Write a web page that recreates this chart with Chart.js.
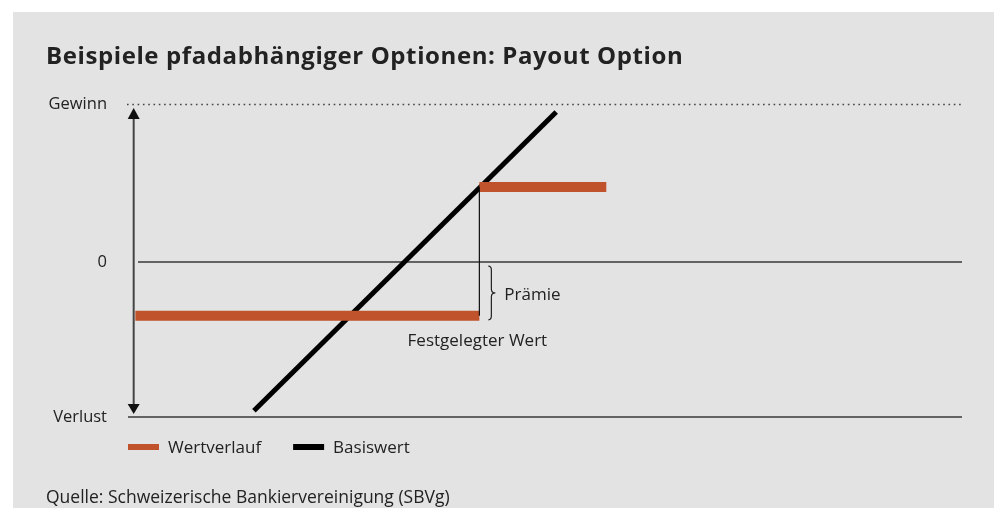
<!DOCTYPE html>
<html>
<head>
<meta charset="utf-8">
<script src="https://cdn.jsdelivr.net/npm/chart.js@4.4.0/dist/chart.umd.min.js"></script>
<style>
  html, body { margin: 0; padding: 0; background: #fff; }
  #wrap { width: 994px; height: 508px; }
</style>
</head>
<body>
<div id="wrap"><canvas id="myChart" width="994" height="508"></canvas></div>
<script>
  'use strict'

  // Achsen (schematisch: x 0..100, y Verlust..Gewinn)
  var yLevels = [-98, 0, 100]
  var yLabels = ['Verlust', '0', 'Gewinn']

  // Wertverlauf (Payout Option)
  var wertX = [1, 42.2, 42.2, 42.2, 57.4]
  var wertY = [-34, -34, null, 47.5, 47.5]

  // Basiswert
  var basisX = [15.2, 51.4]
  var basisY = [-94, 95]

  // Festgelegter Wert (Sprung)
  var sprungX = [42.2, 42.2]
  var sprungY = [-34, 47.5]

  var orange = '#c0532b'
  var textColor = '#222'
  var font = '"Open Sans", "Noto Sans", sans-serif'

  function pts(xs, ys) {
    return xs.map(function (x, i) { return { x: x, y: ys[i] } })
  }

  var decor = {
    id: 'decor',
    beforeDraw: function (chart) {
      var c = chart.ctx
      c.save()
      c.fillStyle = '#fff'
      c.fillRect(0, 0, chart.width, chart.height)
      c.fillStyle = '#e3e3e3'
      c.fillRect(13, 12, chart.width - 13, chart.height - 12)
      c.restore()
    },
    beforeDatasetsDraw: function (chart) {
      var c = chart.ctx
      var xs = chart.scales.x, ys = chart.scales.y
      var area = chart.chartArea
      var yTop = ys.getPixelForValue(yLevels[2])
      var yZero = ys.getPixelForValue(yLevels[1])
      var yBot = ys.getPixelForValue(yLevels[0])
      c.save()
      // Gewinn (gepunktet)
      c.strokeStyle = '#444'
      c.lineWidth = 1.5
      c.setLineDash([1.6, 3.7])
      c.beginPath()
      c.moveTo(area.left, Math.round(yTop) + 0.5)
      c.lineTo(area.right, Math.round(yTop) + 0.5)
      c.stroke()
      c.setLineDash([])
      // 0 und Verlust
      c.strokeStyle = '#3a3a3a'
      c.lineWidth = 1.5
      c.beginPath()
      c.moveTo(area.left + 11, yZero)
      c.lineTo(area.right, yZero)
      c.moveTo(area.left + 1, yBot)
      c.lineTo(area.right, yBot)
      c.stroke()
      // senkrechte Achse mit Pfeilen
      var ax = xs.getPixelForValue(0.8)
      c.strokeStyle = '#444'
      c.fillStyle = '#111'
      c.lineWidth = 2
      c.beginPath()
      c.moveTo(ax, yTop + 12)
      c.lineTo(ax, yBot - 10)
      c.stroke()
      c.beginPath()
      c.moveTo(ax, yTop + 4)
      c.lineTo(ax - 6, yTop + 15)
      c.lineTo(ax + 6, yTop + 15)
      c.closePath()
      c.fill()
      c.beginPath()
      c.moveTo(ax, yBot - 3)
      c.lineTo(ax - 6, yBot - 13)
      c.lineTo(ax + 6, yBot - 13)
      c.closePath()
      c.fill()
      c.restore()
    },
    afterDraw: function (chart) {
      var c = chart.ctx
      var xs = chart.scales.x, ys = chart.scales.y
      c.save()
      c.fillStyle = textColor
      c.textBaseline = 'alphabetic'
      c.textAlign = 'left'
      c.font = 'bold 24px ' + font
      c.letterSpacing = '0.6px'
      c.fillText('Beispiele pfadabhängiger Optionen: Payout Option', 46, 64)
      c.letterSpacing = '0px'
      c.font = '17.5px ' + font
      c.fillText('Quelle: Schweizerische Bankiervereinigung (SBVg)', 46, 503)

      // Klammer Prämie
      c.font = '17px ' + font
      var bx = xs.getPixelForValue(sprungX[0]) + 12
      var b0 = ys.getPixelForValue(0) + 4
      var b1 = ys.getPixelForValue(wertY[0]) + 4
      var bm = (b0 + b1) / 2
      c.strokeStyle = '#222'
      c.lineWidth = 1.2
      c.beginPath()
      c.moveTo(bx - 3, b0)
      c.quadraticCurveTo(bx, b0, bx, b0 + 4)
      c.lineTo(bx, bm - 4)
      c.quadraticCurveTo(bx, bm, bx + 4, bm)
      c.quadraticCurveTo(bx, bm, bx, bm + 4)
      c.lineTo(bx, b1 - 4)
      c.quadraticCurveTo(bx, b1, bx - 3, b1)
      c.stroke()
      c.textBaseline = 'middle'
      c.fillText('Prämie', bx + 13, bm + 2)
      c.textAlign = 'center'
      c.fillText('Festgelegter Wert', xs.getPixelForValue(sprungX[0]) - 2, ys.getPixelForValue(wertY[0]) + 25)

      // Legende
      var lx = 128, ly = 447
      c.textAlign = 'left'
      chart.data.datasets.forEach(function (ds) {
        if (!ds.inLegend) return
        c.fillStyle = ds.borderColor
        c.fillRect(lx, ly - 3, 31, 6)
        c.fillStyle = textColor
        c.fillText(ds.label, lx + 40, ly + 1)
        lx += 40 + c.measureText(ds.label).width + 32
      })
      c.restore()
    }
  }

  var ctx = document.getElementById('myChart')

  var myChart = new Chart(ctx, {
    type: 'line',
    data: {
      datasets: [
        {
          label: 'Festgelegter Wert',
          data: pts(sprungX, sprungY),
          borderColor: '#111',
          borderWidth: 1.2,
          pointRadius: 0,
          inLegend: false
        },
        {
          label: 'Wertverlauf',
          data: pts(wertX, wertY),
          borderColor: orange,
          borderWidth: 10,
          borderCapStyle: 'butt',
          spanGaps: false,
          pointRadius: 0,
          inLegend: true
        },
        {
          label: 'Basiswert',
          data: pts(basisX, basisY),
          borderColor: '#000',
          borderWidth: 5,
          borderCapStyle: 'butt',
          pointRadius: 0,
          inLegend: true
        }
      ]
    },
    options: {
      responsive: false,
      animation: false,
      layout: {
        padding: { left: 20, right: 32, top: 104, bottom: 91 }
      },
      scales: {
        x: {
          type: 'linear',
          min: 0,
          max: 100,
          display: false
        },
        y: {
          type: 'linear',
          min: yLevels[0],
          max: yLevels[2],
          afterFit: function (scale) { scale.width = 107 },
          afterBuildTicks: function (scale) {
            scale.ticks = yLevels.map(function (v) { return { value: v } })
          },
          ticks: {
            padding: 12,
            color: textColor,
            font: { family: font, size: 16.5 },
            callback: function (v) {
              var i = yLevels.indexOf(v)
              return i >= 0 ? yLabels[i] : ''
            }
          },
          grid: { display: false },
          border: { display: false }
        }
      },
      plugins: {
        legend: { display: false },
        tooltip: { enabled: false }
      }
    },
    plugins: [decor]
  })
</script>
</body>
</html>
